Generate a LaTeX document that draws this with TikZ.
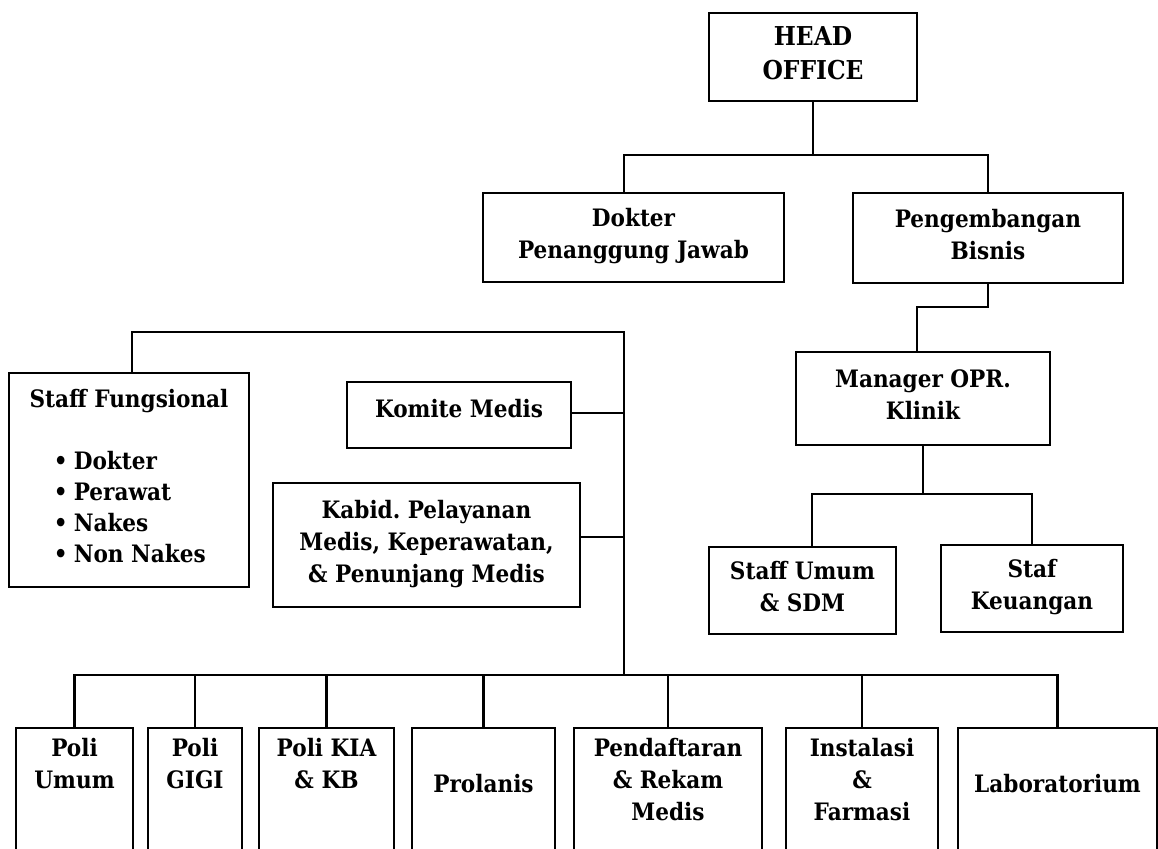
\documentclass[tikz,border=0pt]{standalone}
\usepackage{fontspec}
\setmainfont{DejaVu Serif Condensed}
\frenchspacing
\newcommand{\bst}{\rule[-8pt]{0pt}{33.5pt}}
\newcommand{\hst}{\rule[-8pt]{0pt}{35pt}}
\newcommand{\kmst}{\rule[-20pt]{0pt}{1pt}}
\tikzset{
  box/.style={draw, line width=2.4pt, inner sep=0pt, align=center,
    font=\bfseries\fontsize{24}{32}\selectfont,
    execute at begin node=\bst, execute at end node=\bst},
  bbox/.style={draw, line width=2.4pt, inner sep=0pt, anchor=north, minimum height=150},
  btxt/.style={inner sep=0pt, align=center,
    font=\bfseries\fontsize{24}{32}\selectfont,
    execute at begin node=\bst, execute at end node=\bst},
  conn/.style={line width=2.2pt}
}
\begin{document}
\begin{tikzpicture}[x=1pt,y=-1pt]
\useasboundingbox (0,0) rectangle (1158,848);
\begin{scope}
\clip (0,0) rectangle (1158,848);
% top
\node[box, minimum width=208, minimum height=88,
  font=\bfseries\fontsize{26}{34}\selectfont,
  execute at begin node=\hst, execute at end node=\hst] (head) at (813,57) {HEAD\\OFFICE};
\node[box, minimum width=301, minimum height=89] (dok) at (633.5,237.5) {Dokter\\Penanggung Jawab};
\node[box, minimum width=270, minimum height=90] (peng) at (988,238) {Pengembangan\\Bisnis};
\node[box, minimum width=254, minimum height=93] (man) at (923,398.5) {Manager OPR.\\Klinik};
\node[box, minimum width=187, minimum height=87] (su) at (802.5,590.5) {Staff Umum\\\& SDM};
\node[box, minimum width=182, minimum height=87] (sk) at (1032,588.5) {Staf\\Keuangan};
% left group
\node[box, minimum width=240, minimum height=214,
  font=\bfseries\fontsize{24}{31}\selectfont] (sf) at (129,480)
  {Staff Fungsional\\ \mbox{}\\
   \makebox[150pt][l]{•\hspace{6pt}Dokter}\\
   \makebox[150pt][l]{•\hspace{6pt}Perawat}\\
   \makebox[150pt][l]{•\hspace{6pt}Nakes}\\
   \makebox[150pt][l]{•\hspace{6pt}Non Nakes}};
\node[box, minimum width=224, minimum height=66,
  execute at end node=\kmst] (km) at (459,415) {Komite Medis};
\node[box, minimum width=307, minimum height=124] (kb) at (426.5,545)
  {Kabid. Pelayanan\\Medis, Keperawatan,\\\& Penunjang Medis};
% bottom boxes
\node[bbox, minimum width=117] (pu) at (74.5,727) {};
\node[bbox, minimum width=94] (pg) at (195,727) {};
\node[bbox, minimum width=135] (pk) at (326.5,727) {};
\node[bbox, minimum width=143] (pr) at (483.5,727) {};
\node[bbox, minimum width=188] (pd) at (668,727) {};
\node[bbox, minimum width=152] (ins) at (862,727) {};
\node[bbox, minimum width=199] (lab) at (1057.5,727) {};
\node[btxt] (put) at (74.5,767.25) {Poli\\Umum};
\node[btxt] (pgt) at (195,767.25) {Poli\\GIGI};
\node[btxt] (pkt) at (326.5,767.25) {Poli KIA\\\& KB};
\node[btxt] (prt) at (483.5,783.25) {Prolanis};
\node[btxt] (pdt) at (668,783.25) {Pendaftaran\\\& Rekam\\Medis};
\node[btxt] (inst) at (862,783.25) {Instalasi\\\&\\Farmasi};
\node[btxt] (labt) at (1057.5,783.25) {Laboratorium};
% connectors
\coordinate (j1) at (813,155);
\draw[conn] (head.south) -- (j1);
\draw[conn] ([xshift=-9.5pt]dok.north) |- (j1) -| (peng.north);
\draw[conn] (peng.south) -- ++(0,23) -| ([xshift=-6pt]man.north);
\coordinate (j2) at (923,494);
\draw[conn] (man.south) -- (j2);
\draw[conn] ([xshift=9.5pt]su.north) |- (j2) -| (sk.north);
\coordinate (jt) at (624,332);
\coordinate (jb) at (624,675);
\draw[conn] ([xshift=3pt]sf.north) |- (jt) -- (jb);
\draw[conn] ([yshift=2pt]km.east) -- ([yshift=2pt]km.east -| jt);
\draw[conn] ([yshift=8pt]kb.east) -- ([yshift=8pt]kb.east -| jt);
\draw[conn] (pu.north) |- (jb) -| (lab.north);
\foreach \n in {pg,pk,pr,pd,ins} \draw[conn] (\n.north) -- (\n.north |- jb);
\end{scope}
\end{tikzpicture}
\end{document}
